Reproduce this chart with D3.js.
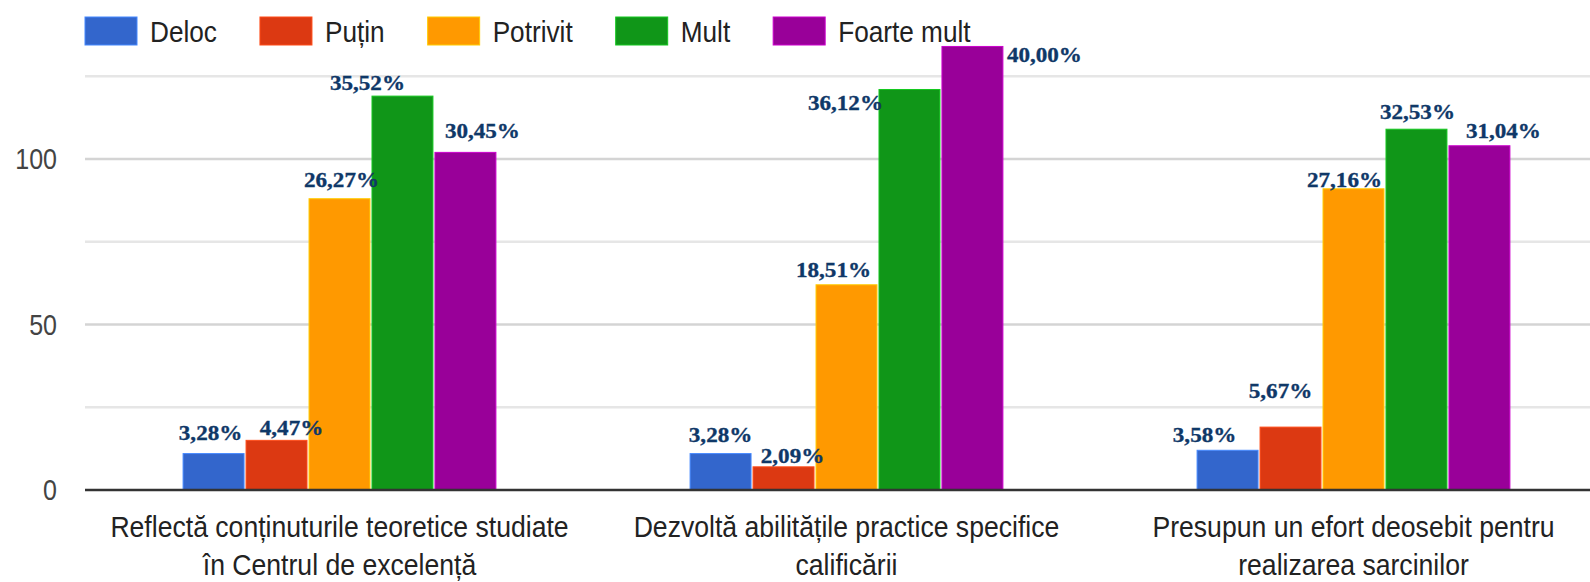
<!DOCTYPE html>
<html>
<head>
<meta charset="utf-8">
<script src="https://cdn.jsdelivr.net/npm/d3@7"></script>
<style>
    body { margin: 0; background: #fff; }
    svg { display: block; }
</style>
</head>
<body>
<div id="chart"></div>
<script>
// Categories (two lines each) and series
const categoryLines = [
    ['Reflectă conținuturile teoretice studiate', 'în Centrul de excelență'],
    ['Dezvoltă abilitățile practice specifice', 'calificării'],
    ['Presupun un efort deosebit pentru', 'realizarea sarcinilor']
];
const series = ['Deloc', 'Puțin', 'Potrivit', 'Mult', 'Foarte mult'];
const colors = ['#3366cc', '#dc3912', '#ff9900', '#109618', '#990099'];

// Counts per category
const deloc = [11, 11, 12];
const putin = [15, 7, 19];
const potrivit = [88, 62, 91];
const mult = [119, 121, 109];
const foarteMult = [102, 134, 104];

// Percent labels per category
const pctDeloc = ['3,28%', '3,28%', '3,58%'];
const pctPutin = ['4,47%', '2,09%', '5,67%'];
const pctPotrivit = ['26,27%', '18,51%', '27,16%'];
const pctMult = ['35,52%', '36,12%', '32,53%'];
const pctFoarteMult = ['30,45%', '40,00%', '31,04%'];

const yTicks = [0, 50, 100];
const gridValues = [25, 50, 75, 100, 125];

// label nudges (dx from bar centre, baseline offset from bar top), by series then category
const labelNudge = [
    [[-3, -14], [0, -12], [-23, -8]],
    [[15, -5], [9, -4], [-10, -29]],
    [[2, -12], [-13, -8], [-9, -2]],
    [[-35, -6], [-64, 21], [1, -10]],
    [[17, -14], [72, 16], [24, -8]]
];

const values = [deloc, putin, potrivit, mult, foarteMult];
const pcts = [pctDeloc, pctPutin, pctPotrivit, pctMult, pctFoarteMult];

const width = 1590;
const height = 582;
const plotLeft = 85;
const baseY = 490;

const svg = d3.select('#chart')
    .append('svg')
    .attr('width', width)
    .attr('height', height);

const yScale = d3.scaleLinear()
    .domain([0, 125])
    .range([baseY, baseY - 125 * 3.31]);

const x0 = d3.scaleBand()
    .domain(d3.range(categoryLines.length))
    .range([86, 1607])
    .paddingInner(0.383)
    .paddingOuter(0.1915);

const x1 = d3.scaleBand()
    .domain(d3.range(series.length))
    .range([0, x0.bandwidth()])
    .paddingInner(0.032);

// gridlines
svg.append('g')
    .selectAll('line')
    .data(gridValues)
    .join('line')
    .attr('x1', plotLeft)
    .attr('x2', width)
    .attr('y1', d => yScale(d))
    .attr('y2', d => yScale(d))
    .attr('stroke', d => d % 50 === 0 ? '#d4d4d4' : '#e6e6e6')
    .attr('stroke-width', 2.5);

// y axis labels
const yAxis = d3.axisLeft(yScale).tickValues(yTicks).tickSize(0).tickPadding(28);
const yg = svg.append('g')
    .attr('transform', `translate(${plotLeft},0)`)
    .call(yAxis);
yg.select('.domain').remove();
yg.selectAll('text')
    .attr('font-family', 'Liberation Sans, Arial, sans-serif')
    .attr('font-size', 25)
    .attr('fill', '#444')
    .attr('transform', 'scale(1,1.2)');

// bars
const bars = [];
values.forEach((arr, s) => {
    arr.forEach((v, c) => bars.push({ s, c, v, label: pcts[s][c] }));
});

svg.append('g')
    .selectAll('rect')
    .data(bars)
    .join('rect')
    .attr('x', d => x0(d.c) + x1(d.s))
    .attr('y', d => yScale(d.v))
    .attr('width', x1.bandwidth())
    .attr('height', d => baseY - yScale(d.v))
    .attr('fill', d => colors[d.s])
    .attr('stroke', d => d3.color(colors[d.s]).brighter(0.8))
    .attr('stroke-width', 1);

// baseline
svg.append('line')
    .attr('x1', plotLeft)
    .attr('x2', width)
    .attr('y1', baseY)
    .attr('y2', baseY)
    .attr('stroke', '#333')
    .attr('stroke-width', 2.5);

// percent labels
svg.append('g')
    .selectAll('text')
    .data(bars)
    .join('text')
    .attr('transform', d => {
        const cx = x0(d.c) + x1(d.s) + x1.bandwidth() / 2 + labelNudge[d.s][d.c][0];
        const cy = yScale(d.v) + labelNudge[d.s][d.c][1];
        return `translate(${cx},${cy}) scale(1.05,1)`;
    })
    .attr('text-anchor', 'middle')
    .attr('font-family', 'Liberation Serif, Times New Roman, serif')
    .attr('font-weight', 'bold')
    .attr('font-size', 22)
    .attr('fill', '#0f3868')
    .attr('stroke', '#0f3868')
    .attr('stroke-width', 0.35)
    .text(d => d.label);

// category labels
const cat = svg.append('g')
    .selectAll('g')
    .data(categoryLines)
    .join('g')
    .attr('transform', (d, i) => `translate(${x0(i) + x0.bandwidth() / 2},0)`);

cat.selectAll('text')
    .data(d => d)
    .join('text')
    .attr('transform', (d, i) => `translate(0,${537 + i * 38}) scale(1,1.14)`)
    .attr('text-anchor', 'middle')
    .attr('font-family', 'Liberation Sans, Arial, sans-serif')
    .attr('font-size', 26.6)
    .attr('fill', '#222')
    .text(d => d);

// legend
const legend = svg.append('g');
let lx = 85;
series.forEach((name, i) => {
    legend.append('rect')
        .attr('x', lx)
        .attr('y', 17)
        .attr('width', 52)
        .attr('height', 28)
        .attr('fill', colors[i])
        .attr('stroke', d3.color(colors[i]).brighter(0.8))
        .attr('stroke-width', 1);
    const t = legend.append('text')
        .attr('transform', `translate(${lx + 65},42) scale(1,1.15)`)
        .attr('font-family', 'Liberation Sans, Arial, sans-serif')
        .attr('font-size', 26.2)
        .attr('fill', '#222')
        .text(name);
    lx += 65 + t.node().getComputedTextLength() + 43;
});
</script>
</body>
</html>
